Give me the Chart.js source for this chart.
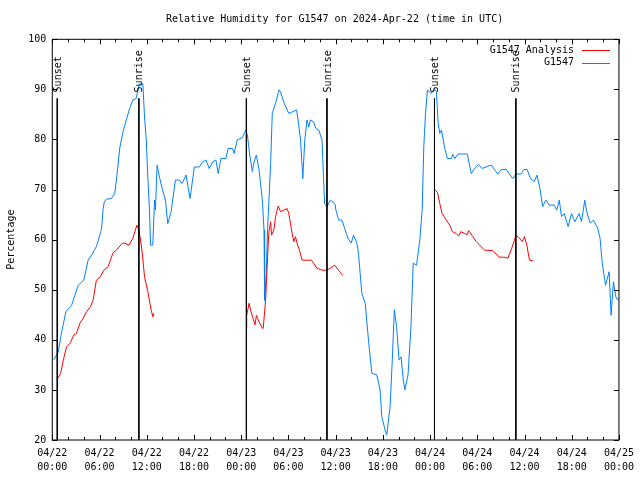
<!DOCTYPE html>
<html>
<head>
<meta charset="utf-8">
<script src="https://cdn.jsdelivr.net/npm/chart.js@4.4.1/dist/chart.umd.min.js"></script>
<style>
  html, body { margin: 0; padding: 0; background: #fff; }
  #wrap { width: 640px; height: 480px; }
</style>
</head>
<body>
<div id="wrap"><canvas id="rh"></canvas></div>
<script>
// hours since 04/22 00:00 UTC
const obsHours = [0.2, 0.76, 1.19, 1.73, 2.45, 2.87, 3.29, 4.0, 4.55, 4.98, 5.6, 6.25, 6.45, 6.6, 6.88, 7.5, 7.93, 8.22, 8.56, 8.98,
  9.4, 9.83, 10.24, 10.67, 11.0, 11.5, 11.72, 11.94, 12.14, 12.35, 12.48, 12.77, 12.99, 13.1, 13.32, 13.62, 13.96, 14.38, 14.67, 15.1,
  15.64, 16.15, 16.49, 17.0, 17.5, 18.05, 18.68, 19.1, 19.52, 19.94, 20.36, 20.79, 21.08, 21.42, 22.05, 22.34, 22.9, 23.1, 23.5, 24.15,
  24.58, 24.79, 25.09, 25.42, 25.63, 25.93, 26.27, 26.69, 26.9, 26.98, 27.19, 27.35, 27.5, 27.74, 27.95, 28.37, 28.8, 29.0, 29.4, 29.84,
  30.05, 30.48, 31.03, 31.23, 31.54, 31.83, 32.08, 32.37, 32.59, 32.8, 33.2, 33.5, 33.85, 34.27, 34.6, 34.9, 35.33, 35.9, 36.04, 36.38,
  36.8, 37.14, 37.56, 37.98, 38.28, 38.7, 38.9, 39.33, 39.76, 40.17, 40.6, 41.23, 41.65, 41.86, 42.28, 42.5, 42.92, 43.2, 43.46, 43.75,
  44.06, 44.31, 44.6, 44.8, 45.2, 45.57, 45.86, 46.28, 46.7, 47.0, 47.2, 47.42, 47.67, 48.1, 48.6, 48.8, 49.03, 49.24, 49.45, 49.87,
  50.2, 50.7, 50.9, 51.14, 51.57, 52.73, 53.24, 53.67, 54.17, 54.6, 55.77, 56.6, 57.04, 57.67, 58.5, 58.93, 59.56, 59.9, 60.33, 60.76,
  61.26, 61.58, 62.0, 62.3, 62.72, 63.14, 63.77, 64.1, 64.42, 64.7, 65.05, 65.55, 65.97, 66.4, 66.94, 67.24, 67.66, 67.9, 68.34, 68.76,
  69.3, 69.6, 69.88, 70.3, 70.75, 71.0, 71.3, 71.6, 71.85];
const obsValues = [36, 37.6, 41.6, 45.6, 46.9, 48.9, 50.9, 51.9, 55.9, 56.9, 58.6, 62, 66, 67.5, 68.1, 68.2, 69.2, 72.9, 78.2, 81.5,
  83.9, 86.2, 87.9, 88.2, 90.9, 91.2, 84.5, 79.9, 72.5, 65.9, 58.9, 58.9, 67.9, 65.9, 74.9, 72.5, 70.2, 67.9, 63.2, 65.6,
  71.9, 71.9, 71.2, 72.9, 68.2, 74.5, 74.5, 75.5, 75.9, 74.2, 75.5, 75.9, 73.2, 76.2, 76.2, 78.2, 78.2, 77.2, 79.9, 80.4,
  81.9, 80.9, 76.9, 73.6, 75.5, 76.9, 73.9, 67.9, 61.9, 47.9, 53.3, 62, 67, 75.2, 85.2, 87.2, 89.9, 89.5, 87.5, 85.9,
  85.2, 85.5, 85.9, 83.9, 79.9, 72.2, 79.9, 83.9, 82.5, 83.9, 83.5, 82.2, 81.9, 79.9, 67.2, 66.6, 67.9, 67.2, 65.9, 63.9,
  63.9, 62.3, 60.3, 59.3, 60.9, 59.3, 57.3, 49.3, 47.3, 40.0, 33.3, 33.0, 30.0, 24.7, 22.0, 21.0, 26.6, 36.0, 46.0, 42.6,
  36.0, 36.6, 32.0, 30.0, 33.0, 42.6, 55.3, 54.9, 60.0, 66, 78.5, 85.2, 89.9, 89.2, 89.9, 89.6, 83.2, 81.2, 81.9, 78.2,
  76.2, 76.2, 77, 76.2, 77.1, 77.1, 73.2, 74.2, 75.0, 74.2, 74.9, 73.1, 74.0, 74.0, 72.2, 73.1, 73.1, 74.0, 74.0, 72.2,
  71.6, 72.9, 69.9, 66.6, 67.9, 66.9, 66.9, 65.9, 67.9, 64.6, 65.2, 62.6, 65.2, 63.6, 65.2, 63.6, 67.9, 65.6, 63.3, 63.9,
  62.3, 60.3, 55.3, 50.9, 53.6, 44.9, 51.6, 48.6, 47.9];

// analysis runs, null separates the three nights
const anaHours = [0.63, 1.06, 1.4, 1.82, 2.24, 2.75, 3.08, 3.5, 3.92, 4.35, 4.85, 5.18, 5.6, 6.1, 6.54, 7.09, 7.72, 8.14, 8.9, 9.2,
  9.74, 10.24, 10.75, 11.0, 11.17, 11.43, 11.72, 12.14, 12.57, 12.77, 12.9, 18,
  24.66, 24.7, 25.0, 25.2, 25.5, 25.76, 25.93, 26.27, 26.69, 26.8, 27.1, 27.3, 27.5, 27.74, 27.86, 28.15, 28.37, 28.7, 29.0, 29.43,
  29.84, 30.05, 30.27, 30.48, 30.69, 30.9, 31.1, 31.4, 31.74, 32.93, 33.64, 34.27, 34.9, 35.33, 35.88, 36.38, 36.93, 42,
  48.6, 48.94, 49.24, 49.53, 49.78, 50.07, 50.5, 50.83, 51.34, 51.64, 51.9, 52.4, 52.73, 52.9, 53.45, 53.87, 54.5, 54.93, 55.98, 56.8,
  57.37, 57.88, 58.38, 58.93, 59.36, 59.7, 60.0, 60.33, 60.63, 61.05];
const anaValues = [32.2, 33.3, 36.0, 38.6, 39.3, 41.0, 41.3, 43.3, 44.3, 45.6, 46.6, 47.9, 51.9, 52.6, 53.9, 54.6, 57.4, 57.9, 59.3, 59.3,
  58.9, 60.3, 62.9, 61.9, 60.3, 57.3, 52.6, 49.6, 45.9, 44.6, 45.3, null,
  42.3, 44.9, 47.3, 45.9, 44.3, 43.0, 44.9, 43.6, 42.3, 42.3, 47.9, 54.6, 61.2, 63.6, 60.9, 61.9, 64.6, 66.7, 65.6, 65.9,
  66.2, 65.2, 63.2, 61.2, 59.6, 60.6, 59.3, 57.9, 55.9, 55.9, 54.3, 53.9, 53.9, 54.3, 54.9, 53.9, 52.8, null,
  70.0, 69.4, 67.2, 65.2, 64.6, 63.9, 62.9, 61.6, 61.2, 60.7, 61.6, 61.2, 61.0, 61.8, 60.6, 59.6, 58.6, 57.9, 57.8, 56.5,
  56.5, 56.3, 58.3, 60.9, 60.3, 59.6, 60.6, 58.6, 55.9, 55.8];

const sunHours = [0.63, 11.0, 24.66, 34.9, 48.56, 58.9];
const sunLabels = ["Sunset", "Sunrise", "Sunset", "Sunrise", "Sunset", "Sunrise"];
const sunTop = 88.2;

const tickDates = ["04/22", "04/22", "04/22", "04/22", "04/23", "04/23", "04/23", "04/23", "04/24", "04/24", "04/24", "04/24", "04/25"];
const tickTimes = ["00:00", "06:00", "12:00", "18:00", "00:00", "06:00", "12:00", "18:00", "00:00", "06:00", "12:00", "18:00", "00:00"];

const chartTitle = "Relative Humidity for G1547 on 2024-Apr-22 (time in UTC)";
const seriesNames = ["G1547 Analysis", "G1547"];
const seriesColors = ["#ff0000", "#0080ff"];

const FONT = "DejaVu Sans Mono";
Chart.defaults.color = "#000";
Chart.defaults.font.family = FONT;
Chart.defaults.font.size = 10;

const toPoints = (xs, ys) => xs.map((x, i) => ({ x: x, y: ys[i] }));

const sunPoints = [];
sunHours.forEach(h => {
  sunPoints.push({ x: h, y: sunTop }, { x: h, y: 20 }, { x: h, y: null });
});

// gnuplot style frame, inward ticks, title over the plot, sun labels and legend
const framePlugin = {
  id: "frame",
  afterDraw(chart) {
    const { ctx, chartArea: a, scales: { x, y } } = chart;
    ctx.save();
    ctx.strokeStyle = "#000";
    ctx.lineWidth = 1;
    ctx.strokeRect(a.left, a.top, a.right - a.left, a.bottom - a.top);
    ctx.beginPath();
    for (let h = 0; h <= 72; h += 2) {
      const px = Math.round(x.getPixelForValue(h)) + 0.5;
      const len = h % 6 === 0 ? 5 : 3;
      ctx.moveTo(px, a.bottom); ctx.lineTo(px, a.bottom - len);
      ctx.moveTo(px, a.top); ctx.lineTo(px, a.top + len);
    }
    for (let v = 20; v <= 100; v += 10) {
      const py = Math.round(y.getPixelForValue(v)) + 0.5;
      ctx.moveTo(a.left, py); ctx.lineTo(a.left + 5, py);
      ctx.moveTo(a.right, py); ctx.lineTo(a.right - 5, py);
    }
    ctx.stroke();

    ctx.fillStyle = "#000";
    ctx.font = "10px " + FONT;
    ctx.textBaseline = "middle";
    ctx.textAlign = "center";
    ctx.fillText(chartTitle, (a.left + a.right) / 2 - 1, 19);

    const labelBottom = y.getPixelForValue(sunTop) - 6;
    sunHours.forEach((h, i) => {
      ctx.save();
      ctx.translate(x.getPixelForValue(h) + 1, labelBottom);
      ctx.rotate(-Math.PI / 2);
      ctx.textAlign = "left";
      ctx.fillText(sunLabels[i], 0, 0);
      ctx.restore();
    });

    ctx.textAlign = "right";
    seriesNames.forEach((name, i) => {
      const ly = 50 + i * 12.7;
      ctx.fillStyle = "#000";
      ctx.fillText(name, 574, ly);
      ctx.strokeStyle = seriesColors[i];
      ctx.beginPath();
      ctx.moveTo(582, Math.round(ly) + 0.5);
      ctx.lineTo(610, Math.round(ly) + 0.5);
      ctx.stroke();
    });
    ctx.restore();
  }
};

new Chart(document.getElementById("rh"), {
  type: "line",
  data: {
    datasets: [
      {
        label: "sun",
        data: sunPoints,
        borderColor: "#000",
        borderWidth: 1,
        pointRadius: 0,
        spanGaps: false
      },
      {
        label: seriesNames[0],
        data: toPoints(anaHours, anaValues),
        borderColor: seriesColors[0],
        borderWidth: 1,
        pointRadius: 0,
        spanGaps: false
      },
      {
        label: seriesNames[1],
        data: toPoints(obsHours, obsValues),
        borderColor: seriesColors[1],
        borderWidth: 1,
        pointRadius: 0
      }
    ]
  },
  options: {
    responsive: true,
    maintainAspectRatio: false,
    animation: false,
    layout: { padding: { left: 0, right: 18.3, top: 39.3, bottom: 0 } },
    plugins: {
      legend: { display: false },
      tooltip: { enabled: false },
      title: { display: false }
    },
    scales: {
      x: {
        type: "linear",
        min: 0,
        max: 72,
        grid: { display: false, drawTicks: false },
        border: { display: false },
        ticks: {
          stepSize: 6,
          autoSkip: false,
          maxRotation: 0,
          padding: 6,
          font: { size: 10, lineHeight: 1.4 },
          callback: (value) => {
            const i = Math.round(value / 6);
            return [tickDates[i], tickTimes[i]];
          }
        },
        afterFit: (scale) => { scale.height = 40; }
      },
      y: {
        min: 20,
        max: 100,
        grid: { display: false, drawTicks: false },
        border: { display: false },
        ticks: { stepSize: 10, padding: 6 },
        title: {
          display: true,
          text: "Percentage",
          font: { size: 10, lineHeight: 1.2 },
          padding: { top: 5, bottom: 0 }
        },
        afterFit: (scale) => { scale.width = 52.3; }
      }
    }
  },
  plugins: [framePlugin]
});
</script>
</body>
</html>
